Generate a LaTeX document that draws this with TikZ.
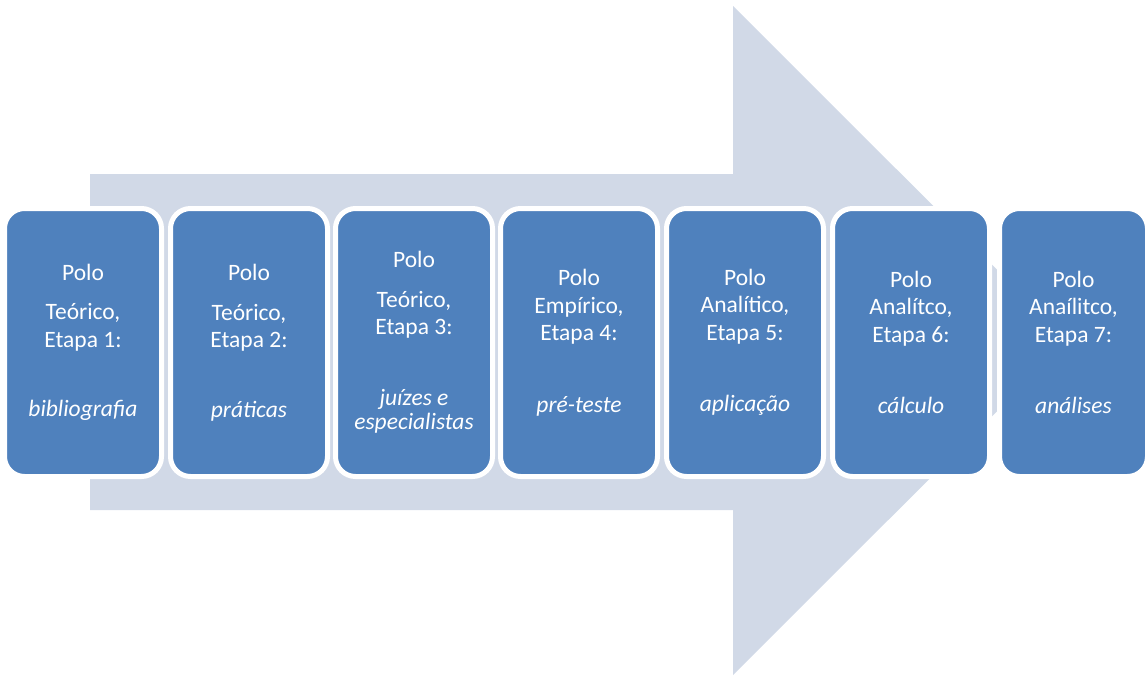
\documentclass[tikz,border=0pt]{standalone}
\usepackage{fontspec}
\setmainfont{Carlito}
\definecolor{azulcaixa}{HTML}{4F81BD}
\definecolor{azulseta}{HTML}{D1D9E7}
\tikzset{
  etapa/.style={fill=azulcaixa,draw=white,line width=5pt,rounded corners=20pt,
    minimum width=157pt,minimum height=268pt,inner sep=0pt,align=center,
    text=white,font=\fontsize{23.5}{27.5}\selectfont}
}
\begin{document}
\begin{tikzpicture}[x=1pt,y=-1pt]
\useasboundingbox (0,0) rectangle (1146,675);
% Seta de fundo
\fill[azulseta] (90,174) -- (733,174) -- (733,6) -- (1068,340.5)
  -- (733,675) -- (733,510) -- (90,510) -- cycle;
% Polo teorico
\node[etapa] (etapa1) at (83,342.5) {Polo\\[12pt]Teórico,\\Etapa 1:\\[42pt]\textit{bibliografia}};
\node[etapa] (etapa2) at (249,342.5) {Polo\\[12pt]Teórico,\\Etapa 2:\\[42pt]\textit{práticas}};
\node[etapa] (etapa3) at (414,342.5) {Polo\\[12pt]Teórico,\\Etapa 3:\\[43pt]\textit{juízes e}\\[-3pt]\textit{especialistas}};
% Polo empirico
\node[etapa] (etapa4) at (579,342.5) {Polo\\Empírico,\\Etapa 4:\\[44pt]\textit{pré-teste}};
% Polo analitico
\node[etapa] (etapa5) at (745,342.5) {Polo\\Analítico,\\Etapa 5:\\[44pt]\textit{aplicação}};
\node[etapa] (etapa6) at (911,342.5) {Polo\\Analítco,\\Etapa 6:\\[44pt]\textit{cálculo}};
\node[etapa,minimum width=148pt] (etapa7) at (1073.5,342.5) {Polo\\Anaílitco,\\Etapa 7:\\[44pt]\textit{análises}};
\end{tikzpicture}
\end{document}
